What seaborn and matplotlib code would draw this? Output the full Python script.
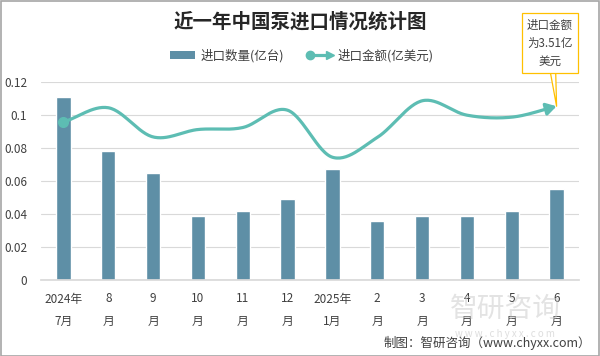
import numpy as np
import pandas as pd
import matplotlib
matplotlib.use("Agg")
import matplotlib.pyplot as plt
import seaborn as sns
from matplotlib.lines import Line2D
from matplotlib.patches import Patch, Rectangle
from matplotlib.legend_handler import HandlerBase

months = ["2024年\n7月", "8\n月", "9\n月", "10\n月", "11\n月", "12\n月",
          "2025年\n1月", "2\n月", "3\n月", "4\n月", "5\n月", "6\n月"]
quantity = [0.111, 0.078, 0.065, 0.039, 0.042, 0.049,
            0.067, 0.036, 0.039, 0.039, 0.042, 0.055]
amount = [3.19, 3.48, 2.89, 3.04, 3.08, 3.43,
          2.48, 2.88, 3.62, 3.33, 3.29, 3.51]
yticks = [0, 0.02, 0.04, 0.06, 0.08, 0.1, 0.12]
ytick_labels = ["0", "0.02", "0.04", "0.06", "0.08", "0.1", "0.12"]

BAR_C = "#5E8FA6"
LINE_C = "#5DBDB3"
TXT_C = "#404040"

sns.set_theme(style="white")
plt.rcParams["font.family"] = ["Noto Sans CJK SC", "DejaVu Sans"]

fig = plt.figure(figsize=(6.0, 3.56), dpi=100)
ax = fig.add_axes([41/600, 1-280/356, (579-41)/600, (280-82)/356])

df = pd.DataFrame({"month": months, "quantity": quantity})
sns.barplot(data=df, x="month", y="quantity", color=BAR_C, width=0.32,
            saturation=1, ax=ax)
ax.set_xlim(-0.5, len(months) - 0.5)
ax.set_ylim(0, 0.12)
ax.set_yticks(yticks)
ax.set_yticklabels(ytick_labels, fontsize=8.5, color=TXT_C)
ax.set_xticks(range(len(months)))
ax.set_xticklabels(months, fontsize=8.5, color=TXT_C, linespacing=1.9)
ax.set_xlabel("")
ax.set_ylabel("")
ax.grid(axis="y", color="#D9D9D9", lw=0.8)
ax.set_axisbelow(True)
for s in ["top", "right", "left"]:
    ax.spines[s].set_visible(False)
ax.spines["bottom"].set_color("#D9D9D9")
ax.tick_params(axis="x", length=0, pad=9)
ax.tick_params(axis="y", length=0, pad=10)

# line on hidden secondary axis
ax2 = ax.twinx()
ax2.set_ylim(0, 4)
ax2.set_yticks([])
for s in ax2.spines.values():
    s.set_visible(False)

# Catmull-Rom smoothing for drawing
xs = np.arange(len(amount), dtype=float)
ys = np.array(amount, dtype=float)
px = np.concatenate([[2*xs[0]-xs[1]], xs, [2*xs[-1]-xs[-2]]])
py = np.concatenate([[2*ys[0]-ys[1]], ys, [2*ys[-1]-ys[-2]]])
sx, sy = [], []
t = np.linspace(0, 1, 30, endpoint=False)
for i in range(1, len(px)-2):
    p0, p1, p2, p3 = px[i-1], px[i], px[i+1], px[i+2]
    q0, q1, q2, q3 = py[i-1], py[i], py[i+1], py[i+2]
    sx.append(0.5*((2*p1) + (-p0+p2)*t + (2*p0-5*p1+4*p2-p3)*t**2 + (-p0+3*p1-3*p2+p3)*t**3))
    sy.append(0.5*((2*q1) + (-q0+q2)*t + (2*q0-5*q1+4*q2-q3)*t**2 + (-q0+3*q1-3*q2+q3)*t**3))
sx = np.concatenate(sx + [[xs[-1]]])
sy = np.concatenate(sy + [[ys[-1]]])
ax2.plot(sx[:-4], sy[:-4], color=LINE_C, lw=2.3, solid_capstyle="round")
ax2.plot([xs[0]], [ys[0]], marker="o", ms=7, color=LINE_C)
ax2.annotate("", xy=(xs[-1], ys[-1]), xytext=(sx[-8], sy[-8]),
             arrowprops=dict(arrowstyle="-|>,head_length=0.5,head_width=0.3",
                             color=LINE_C, lw=2.3, shrinkA=0, shrinkB=0))

# callout
ax2.annotate("进口金额\n为3.51亿\n美元", xy=(xs[-1], ys[-1]),
             xytext=(550/600, 1-43/356), textcoords="figure fraction",
             ha="center", va="center", fontsize=8.3, color=TXT_C, linespacing=1.5,
             annotation_clip=False,
             bbox=dict(boxstyle="square,pad=0.45", fc="white", ec="#FFC000", lw=0.9),
             arrowprops=dict(arrowstyle="wedge,tail_width=0.45,shrink_factor=0.5",
                             fc="white", ec="#FFC000", lw=0.9, shrinkA=0, shrinkB=0))

# title
fig.text(300/600, 1-22/356, "近一年中国泵进口情况统计图", ha="center", va="center",
         fontsize=14, fontweight="bold", color="#262626")

# legend
class HandlerArrowLine(HandlerBase):
    def create_artists(self, legend, orig_handle, xdescent, ydescent, width,
                       height, fontsize, trans):
        y = height / 2 - ydescent
        l = Line2D([-xdescent, width - xdescent - 3], [y, y], color=LINE_C, lw=2.3,
                   transform=trans)
        m = Line2D([-xdescent + 2], [y], marker="o", ms=6, color=LINE_C, transform=trans)
        a = Line2D([width - xdescent - 2], [y], marker=">", ms=6, color=LINE_C,
                   transform=trans)
        return [l, m, a]

h_bar = Patch(facecolor=BAR_C, edgecolor="none")
h_line = Line2D([], [], color=LINE_C)
fig.legend([h_bar, h_line], ["进口数量(亿台)", "进口金额(亿美元)"],
           handler_map={Line2D: HandlerArrowLine()},
           loc="center", bbox_to_anchor=(302/600, 1-56/356), ncol=2,
           frameon=False, fontsize=9, labelcolor=TXT_C, handlelength=2.0,
           handleheight=0.6, handletextpad=0.4, columnspacing=1.9)

# watermark (logo in the reference)
fig.text(505/600, 1-309/356, "智研咨询", ha="center", va="center", fontsize=20,
         color="#C8C8C8", alpha=0.5, zorder=0)
fig.text(505/600, 1-334/356, "w w w . c h y x x . c o m", ha="center", va="center",
         fontsize=7, color="#C8C8C8", alpha=0.6, zorder=0)

# footer
fig.text(591/600, 1-343/356, "制图：智研咨询（www.chyxx.com）", ha="right", va="center",
         fontsize=9, color=TXT_C)

# outer border
fig.patches.append(Rectangle((0.001, 0.001), 0.997, 0.996, transform=fig.transFigure,
                             fill=False, ec="#A6A6A6", lw=1.2))

fig.savefig("out.png", dpi=100)
